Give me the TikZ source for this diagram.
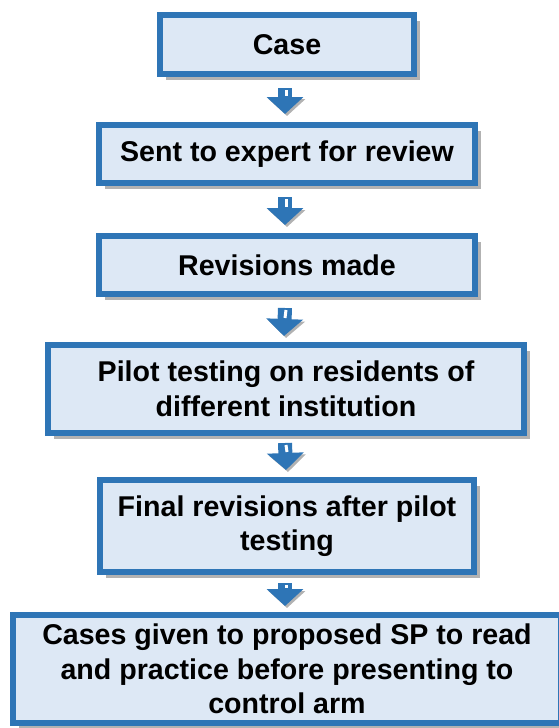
\documentclass[tikz,border=0pt]{standalone}
\usepackage{fontspec}
\setmainfont{Liberation Sans}
\usetikzlibrary{arrows.meta,shadows}
\definecolor{boxblue}{RGB}{46,117,182}
\definecolor{boxfill}{RGB}{221,232,245}

\begin{document}
\begin{tikzpicture}[x=1pt, y=-1pt,
	stage/.style={draw=boxblue, line width=6pt, fill=boxfill, inner sep=0pt, align=center,
		font=\fontsize{28.6}{34.5}\selectfont\bfseries,
		drop shadow={shadow xshift=6pt, shadow yshift=-6pt, opacity=1, fill=black!30}},
	flow/.style={draw=boxblue, line width=14pt, -{Triangle[width=36pt, length=17pt]},
		preaction={draw=black!30, transform canvas={shift={(2pt,-2pt)}}}},
	stripe/.style={draw=white, line width=3pt}]
	\useasboundingbox (0,0) rectangle (558,728);
	% the stages
	\node[stage, minimum width=254pt, minimum height=59pt] (case) at (287,44.5) {Case};
	\node[stage, minimum width=376pt, minimum height=58pt] (expert) at (287,154) {Sent to expert for review};
	\node[stage, minimum width=376pt, minimum height=58pt] (revisions) at (287,265) {Revisions made};
	\node[stage, minimum width=476pt, minimum height=88pt] (pilot) at (286,389) {Pilot testing on residents of\\different institution};
	\node[stage, minimum width=374pt, minimum height=92pt] (final) at (287,526) {Final revisions after pilot\\testing};
	\node[stage, minimum width=548pt, minimum height=108pt] (cases) at (287,669) {Cases given to proposed SP to read\\and practice before presenting to\\control arm};
	% block arrows between the stages
	\draw[flow] ([xshift=-2pt, yshift=-11pt]case.south) -- ([xshift=-2pt, yshift=8pt]expert.north);
	\draw[stripe] ([xshift=-1pt, yshift=-13pt]case.south) -- ([xshift=-1pt, yshift=26pt]expert.north);
	\draw[flow] ([xshift=-2pt, yshift=-11pt]expert.south) -- ([xshift=-2pt, yshift=8pt]revisions.north);
	\draw[stripe] ([xshift=-1pt, yshift=-13pt]expert.south) -- ([xshift=-1pt, yshift=26pt]revisions.north);
	\draw[flow] ([xshift=-2pt, yshift=-11pt]revisions.south) -- ([xshift=-2pt, yshift=6pt]pilot.north);
	\draw[stripe] ([xshift=-1pt, yshift=-13pt]revisions.south) -- ([xshift=-1pt, yshift=24pt]pilot.north);
	\draw[flow] ([xshift=-1pt, yshift=-7pt]pilot.south) -- ([xshift=-1pt, yshift=7pt]final.north);
	\draw[stripe] ([xshift=0pt, yshift=-9pt]pilot.south) -- ([xshift=0pt, yshift=25pt]final.north);
	\draw[flow] ([xshift=-2pt, yshift=-8pt]final.south) -- ([xshift=-2pt, yshift=6pt]cases.north);
	\draw[stripe] ([xshift=-1pt, yshift=-10pt]final.south) -- ([xshift=-1pt, yshift=24pt]cases.north);
\end{tikzpicture}
\end{document}
